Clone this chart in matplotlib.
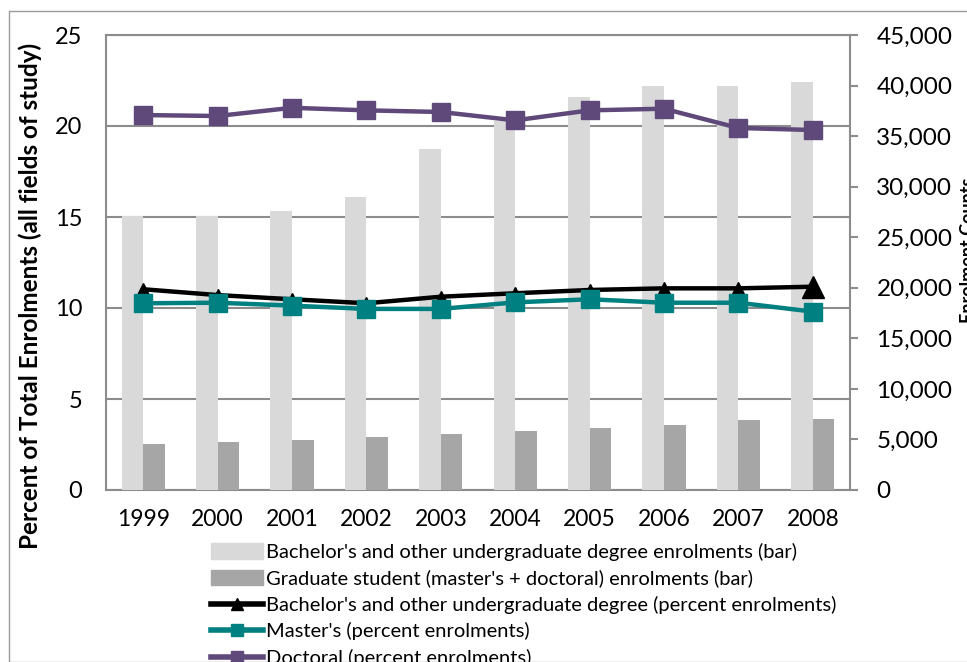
import matplotlib
matplotlib.use("Agg")
import matplotlib.pyplot as plt
from matplotlib.patches import Rectangle
from matplotlib.lines import Line2D
from matplotlib.ticker import FuncFormatter
import numpy as np

years = ["1999", "2000", "2001", "2002", "2003", "2004", "2005", "2006", "2007", "2008"]
undergrad_counts = [27100, 27050, 27550, 29000, 33750, 36500, 38850, 40000, 39950, 40350]
grad_counts = [4580, 4720, 4950, 5240, 5540, 5840, 6100, 6400, 6920, 7020]
bachelor_pct = [11.03, 10.71, 10.48, 10.26, 10.62, 10.81, 10.99, 11.08, 11.08, 11.17]
master_pct = [10.26, 10.29, 10.13, 9.95, 9.95, 10.31, 10.48, 10.29, 10.29, 9.80]
doctoral_pct = [20.60, 20.55, 21.00, 20.86, 20.77, 20.31, 20.86, 20.95, 19.89, 19.78]

labels = [
    "Bachelor's and other undergraduate degree enrolments (bar)",
    "Graduate student (master's + doctoral) enrolments (bar)",
    "Bachelor's and other undergraduate degree (percent enrolments)",
    "Master's (percent enrolments)",
    "Doctoral (percent enrolments)",
]

FONT = "Lato"
plt.rcParams["font.family"] = [FONT, "DejaVu Sans"]

GRID = "#8c8c8c"
LIGHT = "#d9d9d9"
DARK = "#a6a6a6"
PURPLE = "#5f497a"
TEAL = "#008080"

W, H = 967, 662
fig = plt.figure(figsize=(W / 100, H / 100), dpi=100)

# outer chart border
fig.patches.append(Rectangle((9 / W, 0), 1, 1 - 11 / H, transform=fig.transFigure,
                             fill=False, edgecolor="#9a9a9a", linewidth=1.0))

left, right, top, bottom = 106 / W, 850 / W, 35 / H, 490 / H
rect = [left, 1 - bottom, right - left, bottom - top]

ax = fig.add_axes(rect)          # grid + left axis
ax_b = ax.twinx()                 # bars, right axis
ax_l = ax.twinx()                 # lines on left scale

x = np.arange(len(years))
ax.set_xlim(-0.5, len(years) - 0.5)
ax.set_ylim(0, 25)
ax.set_yticks(np.arange(0, 26, 5))
ax.grid(axis="y", color=GRID, linewidth=1.5)
ax.set_axisbelow(True)
ax.tick_params(axis="y", length=0, pad=17, labelsize=17)
ax.tick_params(axis="x", length=0, pad=14, labelsize=16.5)
ax.set_xticks(x)
ax.set_xticklabels(years)
for s in ["left", "bottom", "top"]:
    ax.spines[s].set_color(GRID)
    ax.spines[s].set_linewidth(1.5)
ax.spines["right"].set_visible(False)

bw = 0.29
ax_b.bar(x - bw / 2, undergrad_counts, width=bw, color=LIGHT, zorder=2)
ax_b.bar(x + bw / 2, grad_counts, width=bw, color=DARK, zorder=2)
ax_b.set_ylim(0, 45000)
ax_b.set_yticks(np.arange(0, 45001, 5000))
ax_b.yaxis.set_major_formatter(FuncFormatter(lambda v, p: f"{int(v):,}"))
ax_b.tick_params(axis="y", direction="out", length=6, width=1.5, color=GRID, pad=13, labelsize=17.5)
ax_b.spines["right"].set_color(GRID)
ax_b.spines["right"].set_linewidth(1.5)
for s in ["left", "top", "bottom"]:
    ax_b.spines[s].set_visible(False)

ax_l.set_ylim(0, 25)
ax_l.set_xlim(-0.5, len(years) - 0.5)
ax_l.axis("off")
ax_l.plot(x, bachelor_pct, color="black", linewidth=3.2, marker="^", markersize=8, zorder=3)
ax_l.plot(x[-1:], bachelor_pct[-1:], color="black", linestyle="none", marker="^", markersize=16, zorder=3)
ax_l.plot(x, master_pct, color=TEAL, linewidth=3.2, marker="s", markersize=13, zorder=4)
ax_l.plot(x, doctoral_pct, color=PURPLE, linewidth=3.2, marker="s", markersize=13, zorder=5)

fig.text(30 / W, 1 - 296 / H, "Percent of Total Enrolments (all fields of study)",
         rotation=90, ha="center", va="center", fontsize=17.5, fontweight="bold")
fig.text(968 / W, 1 - 250 / H, "Enrolment Counts", rotation=90, ha="center",
         va="center", fontsize=13, fontweight="bold")

handles = [
    Rectangle((0, 0), 1, 1, color=LIGHT),
    Rectangle((0, 0), 1, 1, color=DARK),
    Line2D([], [], color="black", linewidth=4, marker="^", markersize=8),
    Line2D([], [], color=TEAL, linewidth=4, marker="s", markersize=8),
    Line2D([], [], color=PURPLE, linewidth=4, marker="s", markersize=8),
]
fig.legend(handles, labels, loc="upper left", bbox_to_anchor=(211 / W, 1 - 543 / H),
           frameon=False, fontsize=14.5, handlelength=2.6, handleheight=0.8,
           handletextpad=0.15, labelspacing=0.42, borderaxespad=0, borderpad=0)

fig.savefig("out.png", dpi=100)
